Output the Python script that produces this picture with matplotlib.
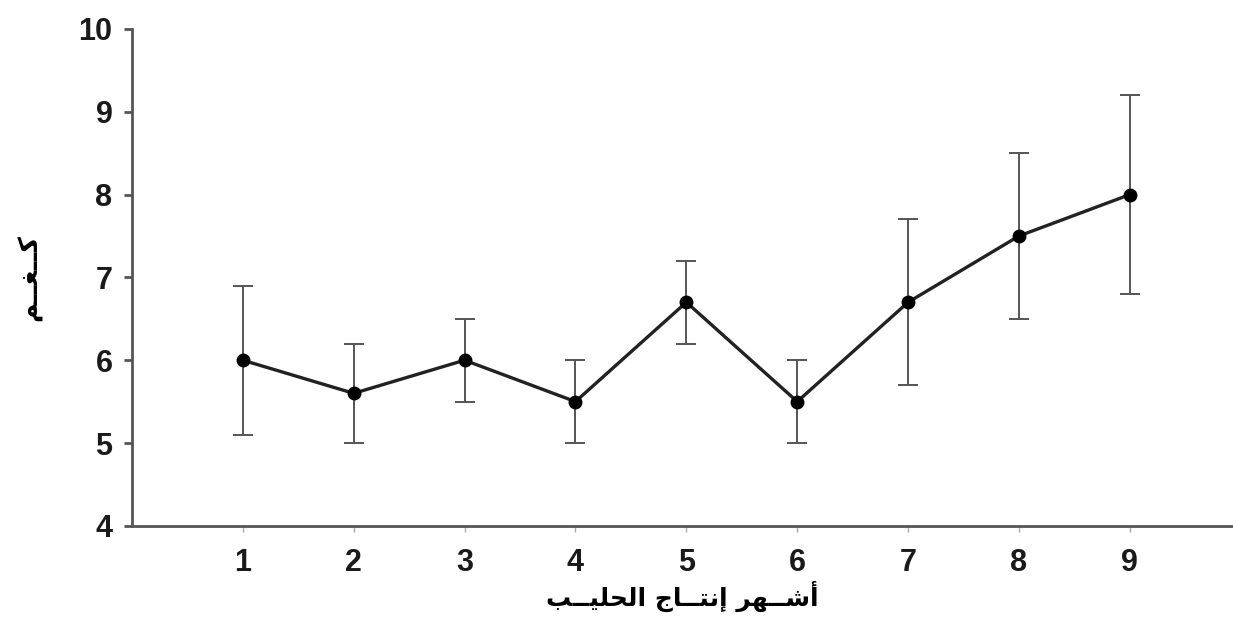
#! /usr/bin/env python3

import matplotlib
matplotlib.use('Agg')
import matplotlib.pyplot as plt

months = [1, 2, 3, 4, 5, 6, 7, 8, 9]
means = [6.0, 5.6, 6.0, 5.5, 6.7, 5.5, 6.7, 7.5, 8.0]
errs = [0.9, 0.6, 0.5, 0.5, 0.5, 0.5, 1.0, 1.0, 1.2]
yticks = [4, 5, 6, 7, 8, 9, 10]

# Arabic written in presentation forms, right-to-left visual order
# (matplotlib does no Arabic shaping by itself)
xlabel = '\uFE90\u0640\u0640\uFEF4\uFEE0\uFEA4\uFEDF\uFE8D \uFE9D\uFE8E\u0640\u0640\uFE98\uFEE7\uFE87 \uFEAE\uFEEC\u0640\u0640\uFEB7\uFE83'  # أشهر إنتاج الحليب
ylabel = '\uFEE2\u0640\u0640\uFED0\u0640\u0640\uFEDB'  # كغم

plt.rcParams['font.family'] = ['Liberation Sans', 'DejaVu Sans']

fig = plt.figure(figsize=(12.33, 6.29), dpi=100)
ax = fig.add_axes([0.107, 0.164, 0.893, 0.790])

ax.errorbar(months, means, yerr=errs, fmt='none', ecolor='#555555',
            elinewidth=1.4, capsize=7, capthick=1.4, zorder=2)
ax.plot(months, means, color='#222222', lw=2.4, marker='o',
        markersize=9, markerfacecolor='black', markeredgecolor='black', zorder=3)

ax.set_xlim(0, 9.93)
ax.set_ylim(4, 10)
ax.set_xticks(months)
ax.set_yticks(yticks)

for s in ['top', 'right']:
    ax.spines[s].set_visible(False)
for s in ['left', 'bottom']:
    ax.spines[s].set_color('#555555')
    ax.spines[s].set_linewidth(2.0)

ax.tick_params(axis='y', direction='out', length=6, width=2, color='#555555',
               labelsize=22, pad=8)
ax.tick_params(axis='x', direction='out', length=4, width=1, color='#aaaaaa',
               labelsize=22, pad=12)
for lab in ax.get_xticklabels() + ax.get_yticklabels():
    lab.set_color('#1a1a1a')
    lab.set_fontweight('bold')

ax.set_xlabel(xlabel, family='DejaVu Sans', fontsize=18, fontweight='bold',
              labelpad=2)
ax.set_ylabel(ylabel, family='DejaVu Sans', fontsize=19, fontweight='bold',
              labelpad=26)

plt.savefig('out.png', dpi=100)
